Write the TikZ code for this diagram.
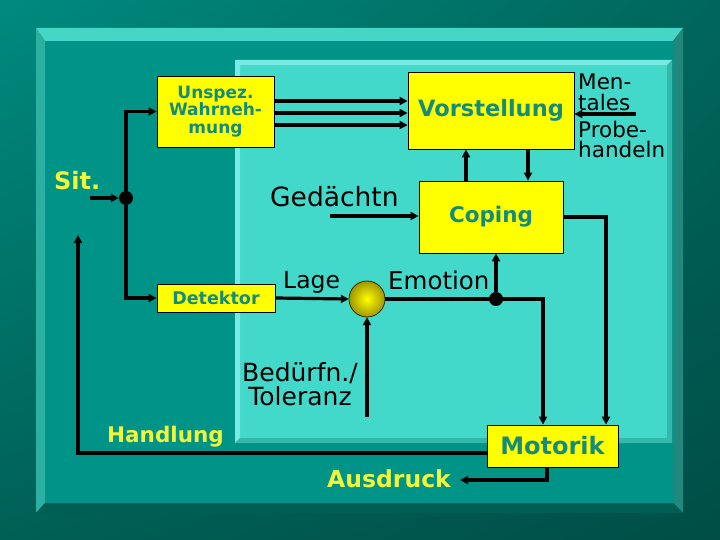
\documentclass[tikz,border=0pt]{standalone}
\usepackage{fontspec}
\setmainfont{DejaVu Sans}
\usetikzlibrary{arrows.meta,calc,shadings}
\definecolor{bgUL}{RGB}{0,138,126}
\definecolor{bgUR}{RGB}{0,102,92}
\definecolor{bgLL}{RGB}{0,96,86}
\definecolor{bgLR}{RGB}{0,78,70}
\definecolor{oface}{RGB}{0,148,136}
\definecolor{obevT}{RGB}{70,214,198}
\definecolor{obevL}{RGB}{44,176,162}
\definecolor{obevR}{RGB}{34,136,126}
\definecolor{obevB}{RGB}{0,94,84}
\definecolor{iface}{RGB}{66,216,202}
\definecolor{ibevLT}{RGB}{120,234,226}
\definecolor{ibevRB}{RGB}{52,184,172}
\definecolor{tealtext}{RGB}{20,140,124}
\definecolor{ytext}{RGB}{240,246,60}
\definecolor{boxyellow}{RGB}{255,255,0}
\definecolor{ballout}{RGB}{160,150,0}
\begin{document}
\begin{tikzpicture}[x=1pt,y=-1pt,
  ybox/.style={draw=black, line width=0.8pt, fill=boxyellow, text=tealtext, inner sep=0pt, align=center},
  arr/.style={line width=3.2pt, -{Triangle[length=8pt,width=8pt]}},
  jdot/.style={circle, fill=black, minimum size=14pt, inner sep=0pt},
  blk/.style={text=black, inner sep=0pt},
  ylab/.style={text=ytext, inner sep=0pt, font=\bfseries\fontsize{24}{24}\selectfont}]
\useasboundingbox (0,0) rectangle (720,540);
% background
\shade[upper left=bgUL, upper right=bgUR, lower left=bgLL, lower right=bgLR] (0,0) rectangle (720,540);
% outer panel
\fill[oface] (45,41) rectangle (673,503);
\fill[obevT] (36,28) -- (683,28) -- (673,41) -- (45,41) -- cycle;
\fill[obevL] (36,28) -- (45,41) -- (45,503) -- (36,513) -- cycle;
\fill[obevR] (683,28) -- (683,513) -- (673,503) -- (673,41) -- cycle;
\fill[obevB] (36,513) -- (45,503) -- (673,503) -- (683,513) -- cycle;
% inner panel
\fill[iface] (235,60) rectangle (672,443);
\fill[ibevLT] (235,60) -- (672,60) -- (667,65) -- (240,65) -- cycle;
\fill[ibevLT] (235,60) -- (240,65) -- (240,438) -- (235,443) -- cycle;
\fill[ibevRB] (672,60) -- (672,443) -- (667,438) -- (667,65) -- cycle;
\fill[ibevRB] (235,443) -- (240,438) -- (667,438) -- (672,443) -- cycle;

% boxes
\node[ybox, minimum width=117pt, minimum height=71pt, font=\bfseries\fontsize{17}{17.5}\selectfont] (unspez) at (215.5,111.5) {Unspez.\\Wahrneh-\\mung};
\node[ybox, minimum width=166pt, minimum height=77pt, font=\bfseries\fontsize{22.5}{24}\selectfont] (vorst) at (491,110.5) {Vorstellung};
\node[ybox, minimum width=144pt, minimum height=72pt, font=\bfseries\fontsize{21.5}{24}\selectfont] (coping) at (491,217) {Coping};
\node[ybox, minimum width=118pt, minimum height=28pt, font=\bfseries\fontsize{17.5}{18}\selectfont] (detektor) at (216,298) {Detektor};
\node[ybox, minimum width=131pt, minimum height=42pt, font=\bfseries\fontsize{24}{24}\selectfont] (motorik) at (552.5,446) {Motorik};
\shade[inner color=boxyellow, outer color=ballout, draw=black!70!ballout, line width=0.8pt] (367,299) circle (18pt);
\node[circle, minimum size=36pt, inner sep=0pt] (ball) at (367,299) {};

% coordinates
\coordinate (sitstart) at (90,198);
\coordinate (r1) at (0,101);
\coordinate (r2) at (0,113);
\coordinate (r3) at (0,125);
\coordinate (mt) at (636,114);
\coordinate (cx1) at (466,0);
\coordinate (cx2) at (528,0);
\coordinate (cx3) at (606,0);
\coordinate (cx4) at (543,0);
\coordinate (cx5) at (547,0);
\coordinate (ged) at (330,216);
\coordinate (fbc) at (78,453);
\coordinate (fbend) at (78,235);
\coordinate (bed) at (367,417);
\coordinate (ausd) at (460,480);

\node[jdot] (d1) at (126,198) {};
\node[jdot] (d2) at (496,299) {};

% connectors
\draw[arr] (sitstart) -- (d1);
\draw[arr] (d1) |- (unspez.west);
\draw[arr] (d1) |- (detektor.west);
\draw[arr, line width=3.6pt] (unspez.east |- r1) -- (vorst.west |- r1);
\draw[arr, line width=3.6pt] (unspez.east |- r2) -- (vorst.west |- r2);
\draw[arr, line width=3.6pt] (unspez.east |- r3) -- (vorst.west |- r3);
\draw[arr] (mt) -- (vorst.east |- mt);
\draw[arr] (cx1 |- coping.north) -- (cx1 |- vorst.south);
\draw[arr] (cx2 |- vorst.south) -- (cx2 |- coping.north);
\draw[arr] (ged) -- (coping.west |- ged);
\draw[arr] (coping.east) -| (cx3 |- motorik.north);
\draw[arr] (detektor.east) -- (ball.west);
\draw[arr] (ball.east) -| (cx4 |- motorik.north);
\draw[arr] (d2) -- (d2 |- coping.south);
\draw[arr] (bed) -- (ball.south);
\draw[arr] (motorik.west |- fbc) -- (fbc) -- (fbend);
\draw[arr] (cx5 |- motorik.south) |- (ausd);

% labels
\node[ylab, anchor=base west] (sit) at (54,190) {Sit.};
\node[ylab, anchor=base west, font=\bfseries\fontsize{21.5}{24}\selectfont] (handlung) at (107,442) {Handlung};
\node[ylab, anchor=base west, font=\bfseries\fontsize{23.5}{24}\selectfont] (ausdruck) at (327,487) {Ausdruck};
\node[blk, anchor=base west, font=\fontsize{26.5}{26}\selectfont] (gedaechtn) at (270,207) {Gedächtn};
\node[blk, anchor=base west, font=\fontsize{23.5}{24}\selectfont] (lage) at (283,288) {Lage};
\node[blk, anchor=base west, font=\fontsize{24.5}{24}\selectfont] (emotion) at (388,289) {Emotion};
\node[blk, anchor=north, align=center, font=\fontsize{25}{24}\selectfont] (beduerfn) at (300,362) {Bedürfn./\\Toleranz};
\node[blk, anchor=north west, align=left, font=\fontsize{21.5}{21}\selectfont] (mentales) at (578,74) {Men-\\tales};
\node[blk, anchor=north west, align=left, font=\fontsize{21.5}{19.5}\selectfont] (probe) at (578,121) {Probe-\\handeln};
\end{tikzpicture}
\end{document}
